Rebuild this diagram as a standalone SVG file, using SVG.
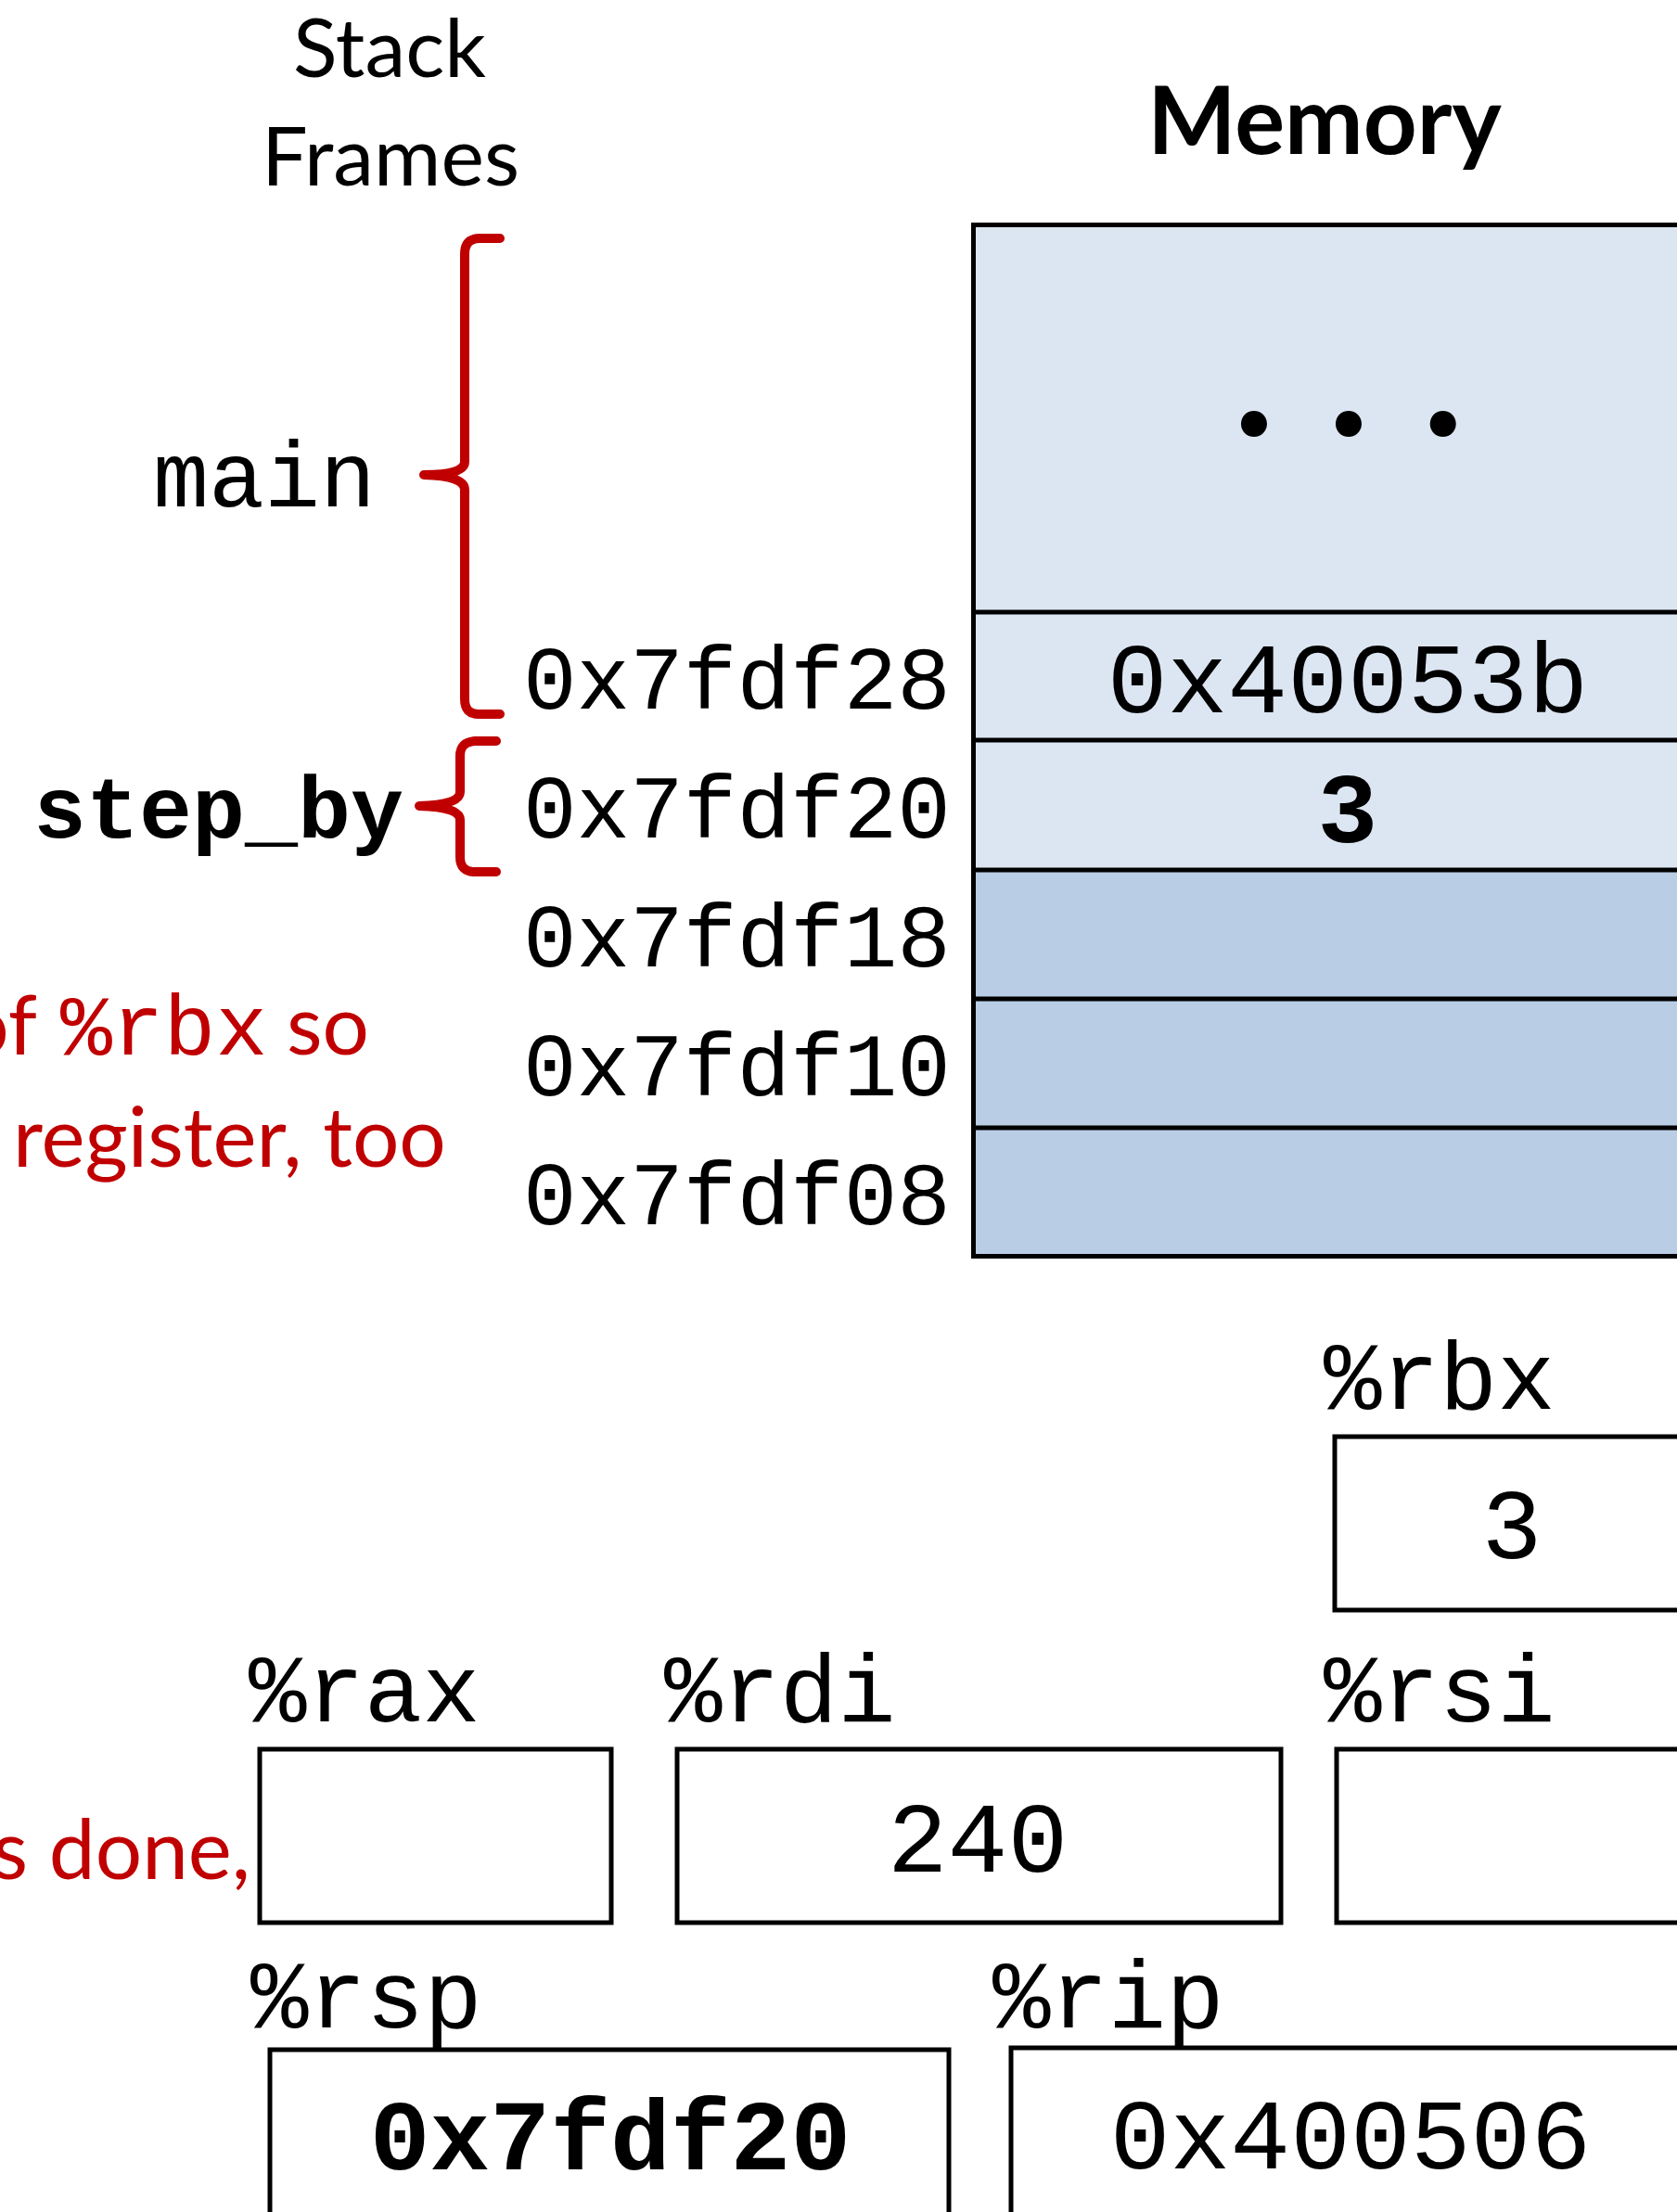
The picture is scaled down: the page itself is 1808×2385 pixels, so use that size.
<svg xmlns="http://www.w3.org/2000/svg" width="1808" height="2385" viewBox="0 0 1808 2385">
<style>
.sans{font-family:Lato,"Open Sans","Liberation Sans",sans-serif;fill:#000}
.mono{font-family:"Liberation Mono","Courier New",monospace;fill:#000}
.b{font-weight:bold}
.red{fill:#C00000}
.brace{fill:none;stroke:#C00000;stroke-width:10;stroke-linecap:round;stroke-linejoin:round}
.box{fill:#fff;stroke:#000;stroke-width:5}
.light{fill:#DCE6F2}
.dark{fill:#B9CDE5}
.line{stroke:#000;stroke-width:5}
</style>
<rect width="1808" height="2385" fill="#fff"/>
<g id="titles">
<text class="sans" x="420" y="83" font-size="88" text-anchor="middle">Stack</text>
<text class="sans" x="421" y="200" font-size="88" text-anchor="middle">Frames</text>
<text class="sans b" x="1428" y="166" font-size="101" text-anchor="middle">Memory</text>
</g>
<g id="memory">
<rect class="light" x="1050" y="243" width="900" height="695"/>
<rect class="dark" x="1050" y="938" width="900" height="416"/>
<rect x="1049.5" y="242.5" width="900" height="1112" fill="none" stroke="#000" stroke-width="5"/>
<line class="line" x1="1049" y1="660" x2="1950" y2="660"/>
<line class="line" x1="1049" y1="798" x2="1950" y2="798"/>
<line class="line" x1="1049" y1="938" x2="1950" y2="938"/>
<line class="line" x1="1049" y1="1077" x2="1950" y2="1077"/>
<line class="line" x1="1049" y1="1216" x2="1950" y2="1216"/>
<text class="sans b" x="1330" y="470" font-size="185" letter-spacing="58">...</text>
<text class="mono" x="1453" y="768" font-size="108" text-anchor="middle">0x40053b</text>
<text class="mono b" x="1453" y="908" font-size="108" text-anchor="middle">3</text>
</g>
<g id="addresses">
<text class="mono" x="564" y="764" font-size="96">0x7fdf28</text>
<text class="mono" x="564" y="903" font-size="96">0x7fdf20</text>
<text class="mono" x="564" y="1042" font-size="96">0x7fdf18</text>
<text class="mono" x="564" y="1181" font-size="96">0x7fdf10</text>
<text class="mono" x="564" y="1320" font-size="96">0x7fdf08</text>
</g>
<g id="frame-main">
<path class="brace" d="M539 257 L516 257 Q501 258 501 274 L501 498 Q501 512 457 512 Q501 513 501 528 L501 754 Q501 770 516 770 L539 770"/>
<text class="mono" x="165" y="546" font-size="100">main</text>
</g>
<g id="frame-step_by">
<path class="brace" d="M535 799 L512 799 Q496 800 496 815 L496 854 Q496 868 452 869 Q496 870 496 884 L496 924 Q496 940 512 940 L535 940"/>
<text class="mono b" x="36" y="903" font-size="95">step_by</text>
</g>
<g id="note">
<text class="sans red" x="40" y="1137" font-size="89" text-anchor="end">of</text>
<text class="mono red" x="65" y="1137" font-size="93">%rbx</text>
<text class="sans red" x="398" y="1137" font-size="89" text-anchor="end">so</text>
<text class="sans red" x="14" y="1258" font-size="89">register, too</text>
<text class="sans red" x="270" y="2026" font-size="89" text-anchor="end">s done,</text>
</g>
<g id="reg-rbx">
<text class="mono" x="1427" y="1519" font-size="104">%rbx</text>
<rect class="box" x="1439" y="1549" width="500" height="187"/>
<text class="mono" x="1630" y="1680" font-size="108" text-anchor="middle">3</text>
</g>
<g id="reg-rax">
<text class="mono" x="268" y="1856" font-size="104">%rax</text>
<rect class="box" x="280" y="1886" width="379" height="187"/>
</g>
<g id="reg-rdi">
<text class="mono" x="716" y="1856" font-size="104">%rdi</text>
<rect class="box" x="730" y="1886" width="651" height="187"/>
<text class="mono" x="1054" y="2018" font-size="108" text-anchor="middle">240</text>
</g>
<g id="reg-rsi">
<text class="mono" x="1427" y="1856" font-size="104">%rsi</text>
<rect class="box" x="1441" y="1886" width="500" height="187"/>
</g>
<g id="reg-rsp">
<rect class="box" x="291" y="2210" width="732" height="300"/>
<text class="mono" x="270" y="2186" font-size="104">%rsp</text>
<text class="mono b" x="658" y="2339" font-size="108" text-anchor="middle">0x7fdf20</text>
</g>
<g id="reg-rip">
<rect class="box" x="1090" y="2208" width="800" height="300"/>
<text class="mono" x="1070" y="2186" font-size="104">%rip</text>
<text class="mono" x="1456" y="2338" font-size="108" text-anchor="middle">0x400506</text>
</g>
<g id="connectors"></g>
</svg>
